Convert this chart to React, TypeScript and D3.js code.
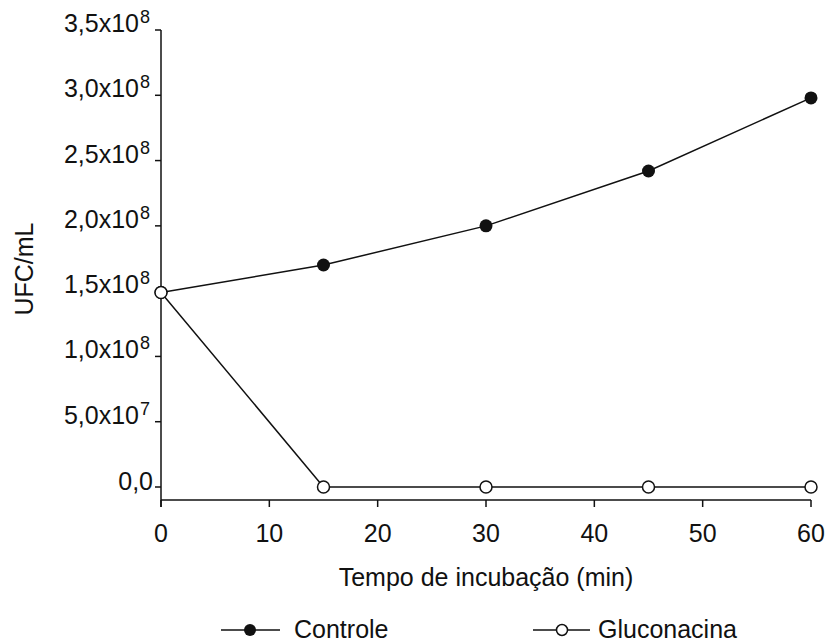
import React from "react";
import * as d3 from "d3";

const times = [0, 15, 30, 45, 60];
const controle = [1.49e8, 1.7e8, 2.0e8, 2.42e8, 2.98e8];
const gluconacina = [1.49e8, 0, 0, 0, 0];
const xTicks = [0, 10, 20, 30, 40, 50, 60];
const yTicks = [0, 5e7, 1e8, 1.5e8, 2e8, 2.5e8, 3e8, 3.5e8];
const yTickMain = ["0,0", "5,0x10", "1,0x10", "1,5x10", "2,0x10", "2,5x10", "3,0x10", "3,5x10"];
const yTickExp = ["", "7", "8", "8", "8", "8", "8", "8"];

const W = 827;
const H = 644;
const FONT = "'Liberation Sans', Arial, sans-serif";
const INK = "#111";

export default function App() {
    const x = d3.scaleLinear().domain([0, 60]).range([161, 811]);
    const y = d3.scaleLinear().domain([0, 3.5e8]).range([487, 30]);
    const axisY = 500;

    const line = d3.line<number>()
        .x((_, i) => x(times[i]))
        .y(d => y(d));

    return (
        <svg width={W} height={H} style={{ position: "absolute", left: 0, top: 0, background: "#fff" }}
            fontFamily={FONT}>
            {/* y axis */}
            <line x1={x(0)} x2={x(0)} y1={y(3.5e8)} y2={axisY + 7} stroke={INK} strokeWidth={1.5} />
            {yTicks.map((t, i) => (
                <g key={t}>
                    <line x1={x(0) - 6} x2={x(0)} y1={y(t)} y2={y(t)} stroke={INK} strokeWidth={1.5} />
                    <text x={yTickExp[i] ? 139 : 153} y={y(t) + (yTickExp[i] ? 2 : 3)} textAnchor="end" fontSize={25} fill={INK}>
                        {yTickMain[i]}
                    </text>
                    {yTickExp[i] && (
                        <text x={140} y={y(t) - 7} fontSize={18} fill={INK}>{yTickExp[i]}</text>
                    )}
                </g>
            ))}

            {/* x axis */}
            <line x1={x(0)} x2={x(60)} y1={axisY} y2={axisY} stroke={INK} strokeWidth={1.5} />
            {xTicks.map(t => (
                <g key={t}>
                    <line x1={x(t)} x2={x(t)} y1={axisY} y2={axisY + 7} stroke={INK} strokeWidth={1.5} />
                    <text x={x(t)} y={542} textAnchor="middle" fontSize={25} fill={INK}>{t}</text>
                </g>
            ))}

            <text x={486} y={586} textAnchor="middle" fontSize={25} fill={INK}>Tempo de incubação (min)</text>
            <text transform={`translate(33,269) rotate(-90)`} textAnchor="middle" fontSize={25} fill={INK}>UFC/mL</text>

            {/* series */}
            <path d={line(controle) || ""} fill="none" stroke={INK} strokeWidth={1.5} />
            <path d={line(gluconacina) || ""} fill="none" stroke={INK} strokeWidth={1.5} />
            {controle.map((v, i) => (
                <circle key={"c" + i} cx={x(times[i])} cy={y(v)} r={6.5} fill={INK} />
            ))}
            {gluconacina.map((v, i) => (
                <circle key={"g" + i} cx={x(times[i])} cy={y(v)} r={6} fill="#fff" stroke={INK} strokeWidth={1.5} />
            ))}

            {/* legend */}
            <line x1={221} x2={280} y1={630} y2={630} stroke={INK} strokeWidth={1.5} />
            <circle cx={250} cy={630} r={6} fill={INK} />
            <text x={294} y={638} fontSize={25} fill={INK}>Controle</text>
            <line x1={533} x2={590} y1={630} y2={630} stroke={INK} strokeWidth={1.5} />
            <circle cx={562} cy={630} r={5.5} fill="#fff" stroke={INK} strokeWidth={1.5} />
            <text x={598} y={638} fontSize={25} fill={INK}>Gluconacina</text>
        </svg>
    );
}
